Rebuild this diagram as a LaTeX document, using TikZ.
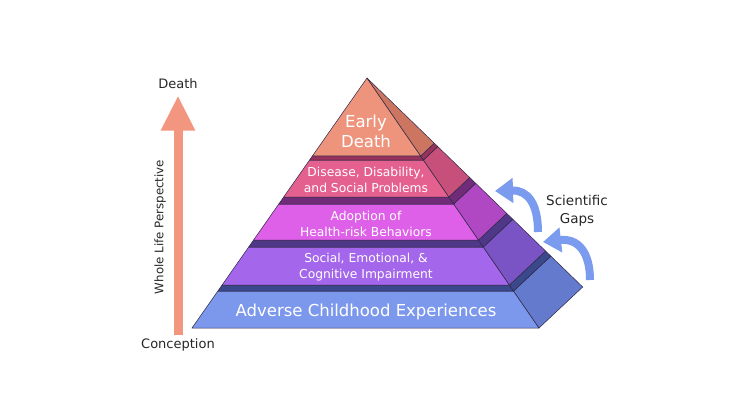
\documentclass[tikz,border=0pt]{standalone}
\usepackage{fontspec}
\setmainfont{DejaVu Sans}
\usetikzlibrary{calc,arrows.meta}

\definecolor{edF}{RGB}{238,148,125}
\definecolor{edS}{RGB}{204,118,98}
\definecolor{dbT}{RGB}{150,50,92}
\definecolor{dbF}{RGB}{228,96,142}
\definecolor{dbS}{RGB}{198,80,122}
\definecolor{ahT}{RGB}{112,44,120}
\definecolor{ahF}{RGB}{222,96,232}
\definecolor{ahS}{RGB}{176,72,196}
\definecolor{scT}{RGB}{80,56,136}
\definecolor{scF}{RGB}{164,102,234}
\definecolor{scS}{RGB}{122,84,196}
\definecolor{acT}{RGB}{60,72,140}
\definecolor{acF}{RGB}{124,152,236}
\definecolor{acS}{RGB}{100,122,204}
\definecolor{lifeC}{RGB}{242,150,128}
\definecolor{gapC}{RGB}{122,155,238}
\definecolor{edgeC}{RGB}{45,40,70}

% one band of the pyramid between heights #1 and #2: front colour #3, side colour #4
\newcommand{\pyrband}[4]{%
  \filldraw[fill=#3,draw=edgeC,line width=.5pt] ($(FL)!#1!(A)$) -- ($(FR)!#1!(A)$) -- ($(FR)!#2!(A)$) -- ($(FL)!#2!(A)$) -- cycle;
  \filldraw[fill=#4,draw=edgeC,line width=.5pt] ($(FR)!#1!(A)$) -- ($(BR)!#1!(A)$) -- ($(BR)!#2!(A)$) -- ($(FR)!#2!(A)$) -- cycle;}

\begin{document}
\begin{tikzpicture}[x=1pt,y=-1pt,
    inlabel/.style={white,align=center,font=\fontsize{12.3}{15.5}\selectfont},
    biglabel/.style={white,align=center,font=\fontsize{16.5}{20}\selectfont},
    sidelabel/.style={black!85,font=\fontsize{13}{15}\selectfont},
    lifearrow/.style={lifeC,line width=9pt,-{Triangle[width=32pt,length=35pt]}},
    gaparrow/.style={gapC,line width=8pt,-{Triangle[width=24pt,length=18pt]}}]
  \useasboundingbox (0,0) rectangle (750,420);

  \coordinate (FL) at (192,328);
  \coordinate (FR) at (539,328);
  \coordinate (BR) at (582.7,287);
  \coordinate (A) at (367,78);

  \pyrband{0}{.148}{acF}{acS}
  \pyrband{.148}{.172}{acT}{acT}
  \pyrband{.172}{.324}{scF}{scS}
  \pyrband{.324}{.352}{scT}{scT}
  \pyrband{.352}{.496}{ahF}{ahS}
  \pyrband{.496}{.524}{ahT}{ahT}
  \pyrband{.524}{.672}{dbF}{dbS}
  \pyrband{.672}{.688}{dbT}{dbT}
  \pyrband{.688}{1}{edF}{edS}

  \node[biglabel] (early) at (366,131) {Early\\Death};
  \node[inlabel] (disease) at (366,180) {Disease, Disability,\\and Social Problems};
  \node[inlabel] (adoption) at (366,224) {Adoption of\\Health-risk Behaviors};
  \node[inlabel] (social) at (366,267) {Social, Emotional, \&\\Cognitive Impairment};
  \node[biglabel] (adverse) at (366,312) {Adverse Childhood Experiences};

  \node[sidelabel] (death) at (178,84) {Death};
  \node[sidelabel] (conception) at (178,345) {Conception};
  \node[sidelabel,rotate=90,font=\fontsize{11.8}{14}\selectfont] (whole) at (160,227) {Whole Life Perspective};
  \node[sidelabel,align=center,font=\fontsize{13.5}{18}\selectfont] (gaps) at (577,211) {Scientific\\Gaps};

  \draw[lifearrow,shorten >=3pt] (conception.north) -- (death.south);

  \coordinate (gapHiTail) at (538,232);
  \coordinate (gapHiTip) at (495,191);
  \coordinate (gapLoTail) at (590,280);
  \coordinate (gapLoTip) at (543,242);
  \draw[gaparrow] (gapHiTail) .. controls (538,204) and (528,190) .. (gapHiTip);
  \draw[gaparrow] (gapLoTail) .. controls (590,252) and (578,238) .. (gapLoTip);
\end{tikzpicture}
\end{document}
